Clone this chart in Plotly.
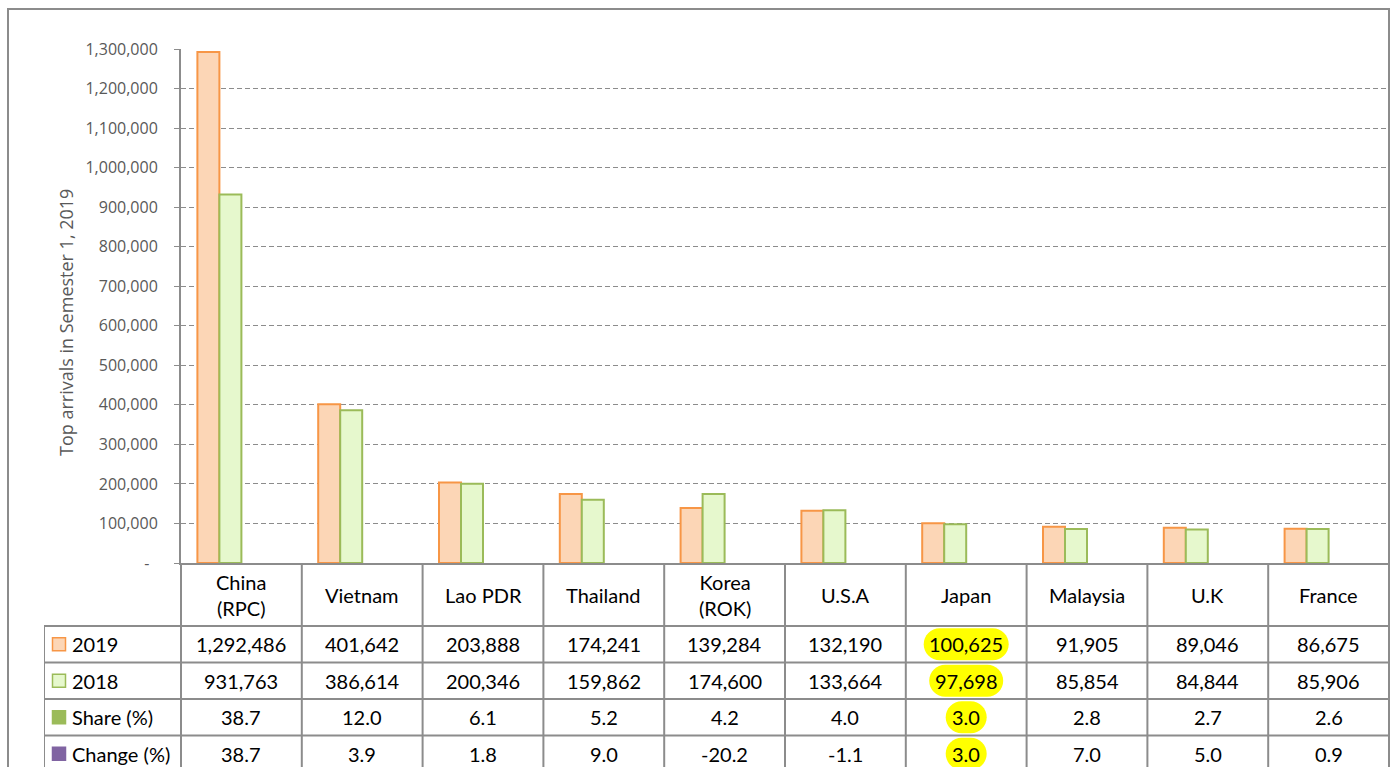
import plotly.graph_objects as go

# ---------------- data ----------------
categories = ["China (RPC)", "Vietnam", "Lao PDR", "Thailand", "Korea (ROK)",
              "U.S.A", "Japan", "Malaysia", "U.K", "France"]
header_labels = ["China<br>(RPC)", "Vietnam", "Lao PDR", "Thailand", "Korea<br>(ROK)",
                 "U.S.A", "Japan", "Malaysia", "U.K", "France"]
arrivals_2019 = [1292486, 401642, 203888, 174241, 139284, 132190, 100625, 91905, 89046, 86675]
arrivals_2018 = [931763, 386614, 200346, 159862, 174600, 133664, 97698, 85854, 84844, 85906]
share_pct = [38.7, 12.0, 6.1, 5.2, 4.2, 4.0, 3.0, 2.8, 2.7, 2.6]
change_pct = [38.7, 3.9, 1.8, 9.0, -20.2, -1.1, 3.0, 7.0, 5.0, 0.9]
row_labels = ["2019", "2018", "Share (%)", "Change (%)"]
y_tick_vals = [0, 100000, 200000, 300000, 400000, 500000, 600000, 700000,
               800000, 900000, 1000000, 1100000, 1200000, 1300000]
y_tick_text = ["-\u00a0\u00a0"] + [f"{v:,}" for v in y_tick_vals[1:]]
y_title = "Top arrivals in Semester 1, 2019"
highlight_category = "Japan"

# ---------------- style ----------------
W, H = 1394, 767
FONT = "Lato"
AXFONT = "Open Sans"
GRAY = "#8c8c8c"
TXT_GRAY = "#595959"
ORANGE = "#F79646"
ORANGE_FILL = "#FCD6B6"
GREEN = "#9BBB59"
GREEN_FILL = "#E6F8CD"
PURPLE = "#8064A2"

PLOT_L, PLOT_R, PLOT_T, PLOT_B = 181, 1389, 49, 563
TAB_L = 44
COL_W = (PLOT_R - PLOT_L) / len(categories)
ROW_H = 36.5
HEADER_BOTTOM = 626

u_left = -0.5 - (PLOT_L - TAB_L) / COL_W
v_top = -0.5 - (HEADER_BOTTOM - PLOT_B) / ROW_H
v_bottom = -0.5 + (H - HEADER_BOTTOM) / ROW_H

fig = go.Figure()

series = [
    ("2019", arrivals_2019, ORANGE_FILL, ORANGE, 2, 1),
    ("2018", arrivals_2018, GREEN_FILL, GREEN, 2, 1),
    ("Share (%)", share_pct, GREEN, GREEN, 0, 0),
    ("Change (%)", change_pct, PURPLE, PURPLE, 0, 0),
]
for name, vals, fill, line, lw, op in series:
    fig.add_trace(go.Bar(x=categories, y=vals, name=name, opacity=op,
                         marker=dict(color=fill, line=dict(color=line, width=lw)),
                         showlegend=False, hoverinfo="x+y+name"))

# legend keys in the table's first column
key_u = -0.5 - (PLOT_L - 59) / COL_W
label_u = -0.5 - (PLOT_L - 70) / COL_W
fig.add_trace(go.Scatter(
    x=[key_u] * 4, y=list(range(4)), xaxis="x2", yaxis="y2", mode="markers",
    marker=dict(symbol="square", size=13,
                color=[ORANGE_FILL, GREEN_FILL, GREEN, PURPLE],
                line=dict(color=[ORANGE, GREEN, GREEN, PURPLE], width=1.5)),
    showlegend=False, hoverinfo="skip"))

shapes = []
annotations = []

# table grid
line_style = dict(color=GRAY, width=2)
for k in range(len(categories) + 1):
    shapes.append(dict(type="line", xref="x2", yref="y2", x0=k - 0.5, x1=k - 0.5,
                       y0=v_top, y1=v_bottom + 1, line=line_style))
shapes.append(dict(type="line", xref="x2", yref="y2", x0=u_left, x1=u_left,
                   y0=-0.5, y1=v_bottom + 1, line=line_style))
for r in range(len(row_labels) + 1):
    shapes.append(dict(type="line", xref="x2", yref="y2", x0=u_left, x1=len(categories) - 0.5,
                       y0=r - 0.5, y1=r - 0.5, line=line_style))

# outer chart border
shapes.append(dict(type="rect", xref="paper", yref="paper",
                   x0=8 / W, x1=PLOT_R / W, y0=-0.05, y1=1 - 9 / H,
                   line=dict(color=GRAY, width=2), fillcolor="rgba(0,0,0,0)", layer="below"))

table_font = dict(family=FONT, size=20, color="#000000")

# header
for i, lab in enumerate(header_labels):
    annotations.append(dict(xref="x2", yref="y2", x=i, y=(v_top - 0.5) / 2, text=lab,
                            showarrow=False, font=table_font, align="center"))

rows = [
    [f"{v:,}" for v in arrivals_2019],
    [f"{v:,}" for v in arrivals_2018],
    [f"{v:.1f}" for v in share_pct],
    [f"{v:.1f}" for v in change_pct],
]
hi = categories.index(highlight_category)
k = 0.5523
for r, row in enumerate(rows):
    annotations.append(dict(xref="x2", yref="y2", x=label_u, y=r, text=row_labels[r],
                            showarrow=False, font=table_font, xanchor="left"))
    for i, txt in enumerate(row):
        annotations.append(dict(xref="x2", yref="y2", x=i, y=r, text=txt,
                                showarrow=False, font=table_font))
        if i == hi:
            tw = sum(5 if ch in ",." else 11 for ch in txt)
            wpx = tw + 14
            hw = wpx / 2 / COL_W
            rx = 16 / COL_W
            ry = 16 / ROW_H
            cx, cy = i, r
            path = (f"M {cx-hw+rx},{cy-ry} L {cx+hw-rx},{cy-ry} "
                    f"C {cx+hw-rx+k*rx},{cy-ry} {cx+hw},{cy-k*ry} {cx+hw},{cy} "
                    f"C {cx+hw},{cy+k*ry} {cx+hw-rx+k*rx},{cy+ry} {cx+hw-rx},{cy+ry} "
                    f"L {cx-hw+rx},{cy+ry} "
                    f"C {cx-hw+rx-k*rx},{cy+ry} {cx-hw},{cy+k*ry} {cx-hw},{cy} "
                    f"C {cx-hw},{cy-k*ry} {cx-hw+rx-k*rx},{cy-ry} {cx-hw+rx},{cy-ry} Z")
            shapes.append(dict(type="path", xref="x2", yref="y2", path=path,
                               fillcolor="#FFFF00", line=dict(width=0), layer="below"))

# y axis title
annotations.append(dict(xref="paper", yref="paper", x=52 / W, y=1 - 323 / H, text=y_title,
                        textangle=-90, showarrow=False,
                        font=dict(family=AXFONT, size=18, color=TXT_GRAY)))

fig.update_layout(
    width=W, height=H,
    margin=dict(l=0, r=0, t=0, b=0, autoexpand=False),
    paper_bgcolor="white", plot_bgcolor="white",
    barmode="group", bargap=1 - 88 / COL_W, bargroupgap=0,
    font=dict(family=FONT),
    xaxis=dict(domain=[PLOT_L / W, PLOT_R / W], type="category", range=[-0.5, 9.5],
               showticklabels=False, showline=True, linecolor=GRAY, linewidth=2,
               ticks="", showgrid=False, fixedrange=True, automargin=False),
    yaxis=dict(domain=[(H - PLOT_B) / H, (H - PLOT_T) / H], range=[0, 1300000],
               tickvals=y_tick_vals, ticktext=y_tick_text,
               ticks="outside", ticklen=5, tickcolor=GRAY, tickwidth=1,
               showline=True, linecolor=GRAY, linewidth=2,
               showgrid=True, gridcolor=GRAY, gridwidth=1, griddash="5px,3px",
               zeroline=False, ticklabelstandoff=13, automargin=False,
               tickfont=dict(family=AXFONT, size=16, color=TXT_GRAY), fixedrange=True),
    xaxis2=dict(domain=[TAB_L / W, PLOT_R / W], range=[u_left, len(categories) - 0.5],
                visible=False, anchor="y2", fixedrange=True, automargin=False),
    yaxis2=dict(domain=[0, (H - PLOT_B) / H], range=[v_bottom, v_top],
                visible=False, anchor="x2", fixedrange=True, automargin=False),
    shapes=shapes,
    annotations=annotations,
)

fig.write_html(
    "out.html",
    config={"displayModeBar": False},
    post_script=(
        "document.body.style.margin='0';"
        "document.body.style.overflow='hidden';"
    ),
)
